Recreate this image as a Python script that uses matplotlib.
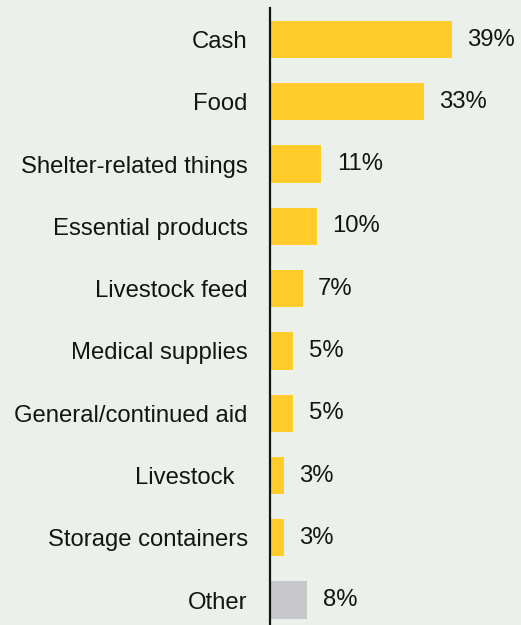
import matplotlib
matplotlib.use('Agg')
import matplotlib.pyplot as plt

categories = ['Cash', 'Food', 'Shelter-related things', 'Essential products',
              'Livestock feed', 'Medical supplies', 'General/continued aid',
              'Livestock  ', 'Storage containers', 'Other']
shares = [39, 33, 11, 10, 7, 5, 5, 3, 3, 8]
value_labels = ['39%', '33%', '11%', '10%', '7%', '5%', '5%', '3%', '3%', '8%']

bg = '#ecf0eb'
yellow = '#ffcc29'
grey = '#c8c8ca'
ink = '#141414'

plt.rcParams['font.family'] = ['Liberation Sans', 'DejaVu Sans']
fsize = 17.2

fig = plt.figure(figsize=(5.21, 6.25), dpi=100, facecolor=bg)
# axes: left edge sits on the vertical rule, runs to the bottom of the figure
ax = fig.add_axes([270 / 521, 0, 1 - 270 / 521, 1 - 8 / 625])
ax.set_facecolor(bg)

colors = [grey if c == 'Other' else yellow for c in categories]
pos = list(range(len(categories)))
ax.barh(pos, shares, height=0.6, color=colors, linewidth=0)

for p, v, lab in zip(pos, shares, value_labels):
    ax.text(v + 3.3, p, lab, va='center', ha='left', fontsize=fsize, color=ink)

ax.set_xlim(0, 251 / 4.66)
ax.set_ylim(9.40, -0.506)
ax.set_yticks(pos)
ax.set_yticklabels(categories, fontsize=fsize, color=ink)
ax.tick_params(axis='y', length=0, pad=16)
ax.set_xticks([])
for side in ('top', 'right', 'bottom'):
    ax.spines[side].set_visible(False)
ax.spines['left'].set_linewidth(1.6)
ax.spines['left'].set_color(ink)

fig.savefig('out.png', dpi=100, facecolor=bg)
